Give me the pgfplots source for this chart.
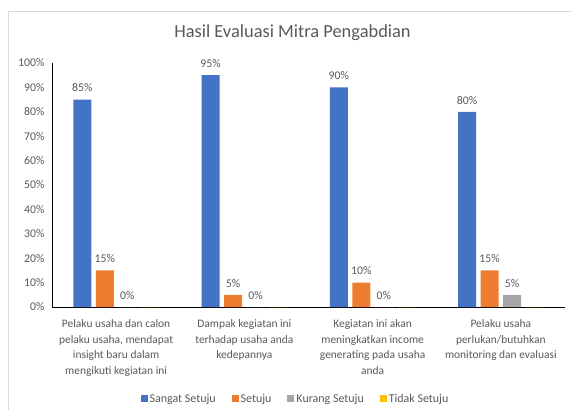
\documentclass[border=0pt]{standalone}
\usepackage{fontspec}
\setmainfont{Carlito}
\usepackage{pgfplots}
\pgfplotsset{compat=1.18}
\definecolor{cblue}{HTML}{4472C4}
\definecolor{corange}{HTML}{ED7D31}
\definecolor{cgray}{HTML}{A5A5A5}
\definecolor{cyellow}{HTML}{FFC000}
\definecolor{txt}{HTML}{595959}
\definecolor{frame}{HTML}{D9D9D9}
\begin{document}
\begin{tikzpicture}
\path[use as bounding box] (0,0) rectangle (572bp,410bp);
\draw[frame, line width=0.8bp] (8bp,-20bp) rectangle (620bp,399bp);
\node[text=txt, font=\fontsize{18.5}{22}\selectfont, anchor=base] at (292.5bp,372bp) {Hasil Evaluasi Mitra Pengabdian};
\begin{axis}[
  at={(52bp,103bp)}, anchor=south west, scale only axis,
  width=513bp, height=244bp,
  ybar=4.5bp, bar width=18bp,
  xmin=-0.5, xmax=3.5, ymin=0, ymax=100,
  axis x line*=bottom, axis y line*=left,
  axis line style={-, black, line width=0.8bp},
  xtick={0,1,2,3},
  xticklabels={{Pelaku usaha dan calon\\pelaku usaha, mendapat\\insight baru dalam\\mengikuti kegiatan ini},
               {Dampak kegiatan ini\\terhadap usaha anda\\kedepannya},
               {Kegiatan ini akan\\meningkatkan income\\generating pada usaha\\anda},
               {Pelaku usaha\\perlukan/butuhkan\\monitoring dan evaluasi}},
  xticklabel style={align=center, font=\fontsize{11.5}{15.8}\selectfont, text=txt, yshift=-9bp},
  ytick={0,10,...,100},
  yticklabel={\pgfmathprintnumber{\tick}\%},
  yticklabel style={font=\fontsize{11.8}{14}\selectfont, text=txt, xshift=-4bp},
  major tick length=0,
  /pgf/number format/assume math mode=true,
  lbl/.style={nodes near coords={\pgfmathprintnumber{\pgfplotspointmeta}\%},
    every node near coord/.append style={text=txt, font=\fontsize{11.8}{14}\selectfont, yshift=4bp}},
  legend style={at={(0.4747,-0.377)}, anchor=center, draw=none, fill=none,
    legend columns=4, font=\fontsize{12}{14}\selectfont, text=txt,
    /tikz/every even column/.append style={column sep=14bp}},
  legend image code/.code={\fill[#1] (0bp,-3.5bp) rectangle (7bp,3.5bp);},
  clip=false,
]
\addplot[fill=cblue, draw=none, lbl] coordinates {(0,85) (1,95) (2,90) (3,80)};
\addplot[fill=corange, draw=none, lbl] coordinates {(0,15) (1,5) (2,10) (3,15)};
\addplot[fill=cgray, draw=none, lbl] coordinates {(0,0) (1,0) (2,0) (3,5)};
\addplot[fill=cyellow, draw=none] coordinates {(0,0) (1,0) (2,0) (3,0)};
\legend{Sangat Setuju, Setuju, Kurang Setuju, Tidak Setuju}
\end{axis}
\end{tikzpicture}
\end{document}
